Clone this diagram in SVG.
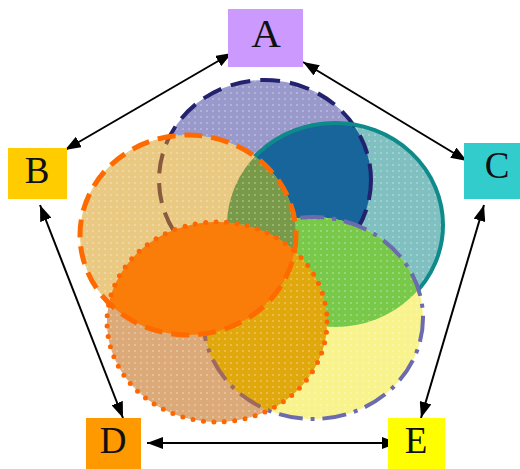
<svg xmlns="http://www.w3.org/2000/svg" width="520" height="469" viewBox="0 0 520 469">
<style>
.lbl{font-family:"Liberation Serif","Times New Roman",serif;font-size:37px;fill:#111;text-anchor:middle}
.conn{stroke:#000;stroke-width:2;fill:none;marker-start:url(#ah);marker-end:url(#ah)}
</style>
<defs>
<marker id="ah" viewBox="0 0 16 12" refX="16" refY="6" markerWidth="16" markerHeight="12" markerUnits="userSpaceOnUse" orient="auto-start-reverse"><path d="M0,0 L16,6 L0,12 z" fill="#000"/></marker>
<pattern id="dots" width="6" height="6" patternUnits="userSpaceOnUse"><circle cx="3" cy="3" r="0.8" fill="#fff" opacity="0.55"/></pattern>
<ellipse id="eA" cx="265" cy="180" rx="106" ry="100"/>
<ellipse id="eB" cx="188" cy="235" rx="108" ry="100"/>
<ellipse id="eC" cx="335" cy="225" rx="108" ry="102"/>
<ellipse id="eD" cx="217" cy="322" rx="110" ry="100"/>
<ellipse id="eE" cx="313" cy="318" rx="110" ry="101"/>
<clipPath id="cA"><use href="#eA"/></clipPath>
<clipPath id="cB"><use href="#eB"/></clipPath>
<clipPath id="cC"><use href="#eC"/></clipPath>
<clipPath id="cD"><use href="#eD"/></clipPath>
<clipPath id="cE"><use href="#eE"/></clipPath>
</defs>
<rect width="520" height="469" fill="#fff"/>
<g id="venn">
<use href="#eA" fill="#9999cc"/><use href="#eA" fill="url(#dots)"/>
<use href="#eC" fill="#80c0c0"/><use href="#eC" fill="url(#dots)"/>
<g clip-path="url(#cA)"><use href="#eC" fill="#17659a"/></g>
<use href="#eA" fill="none" stroke="#22226e" stroke-width="4" stroke-dasharray="20 10"/>
<use href="#eC" fill="none" stroke="#0f8a8a" stroke-width="4"/>
<use href="#eE" fill="#f8f38c"/><use href="#eE" fill="url(#dots)"/>
<g clip-path="url(#cC)"><use href="#eE" fill="#78c84a"/><use href="#eE" fill="url(#dots)"/></g>
<use href="#eE" fill="none" stroke="#6b6bae" stroke-width="4" stroke-dasharray="24 8 4 8"/>
<use href="#eB" fill="#eac982"/><use href="#eB" fill="url(#dots)"/>
<g clip-path="url(#cB)"><use href="#eC" fill="#789a48"/><use href="#eC" fill="url(#dots)"/>
<use href="#eA" fill="none" stroke="#8a5a3c" stroke-width="4" stroke-dasharray="20 10"/></g>
<use href="#eD" fill="#dcaa78"/><use href="#eD" fill="url(#dots)"/>
<g clip-path="url(#cD)"><use href="#eE" fill="#e0a80c"/><use href="#eE" fill="url(#dots)"/>
<use href="#eE" fill="none" stroke="#9c6a60" stroke-width="4" stroke-dasharray="24 8 4 8"/>
<use href="#eB" fill="#fa7d0a"/></g>
<use href="#eB" fill="none" stroke="#ff6a00" stroke-width="5" stroke-dasharray="18 9"/>
<use href="#eD" fill="none" stroke="#ff6600" stroke-width="5" stroke-linecap="round" stroke-dasharray="0 10.5"/>
</g>
<g id="connectors">
<line class="conn" x1="232" y1="53" x2="65" y2="150"/>
<line class="conn" x1="303" y1="62" x2="467" y2="161"/>
<line class="conn" x1="40" y1="205" x2="123" y2="418"/>
<line class="conn" x1="484" y1="205" x2="421" y2="418"/>
<line class="conn" x1="147" y1="443" x2="398" y2="443"/>
</g>
<g id="node-A"><rect x="228" y="9" width="75" height="58" fill="#cc99ff"/><text class="lbl" x="266" y="47" style="font-size:41px">A</text></g>
<g id="node-B"><rect x="8" y="148" width="59" height="51" fill="#ffcc00"/><text class="lbl" x="37" y="183">B</text></g>
<g id="node-C"><rect x="464" y="143" width="56" height="56" fill="#33cccc"/><text class="lbl" x="497" y="178">C</text></g>
<g id="node-D"><rect x="86" y="418" width="55" height="51" fill="#ff9900"/><text class="lbl" x="113" y="453">D</text></g>
<g id="node-E"><rect x="388" y="418" width="57" height="51" fill="#ffff00"/><text class="lbl" x="416" y="453">E</text></g>
</svg>
